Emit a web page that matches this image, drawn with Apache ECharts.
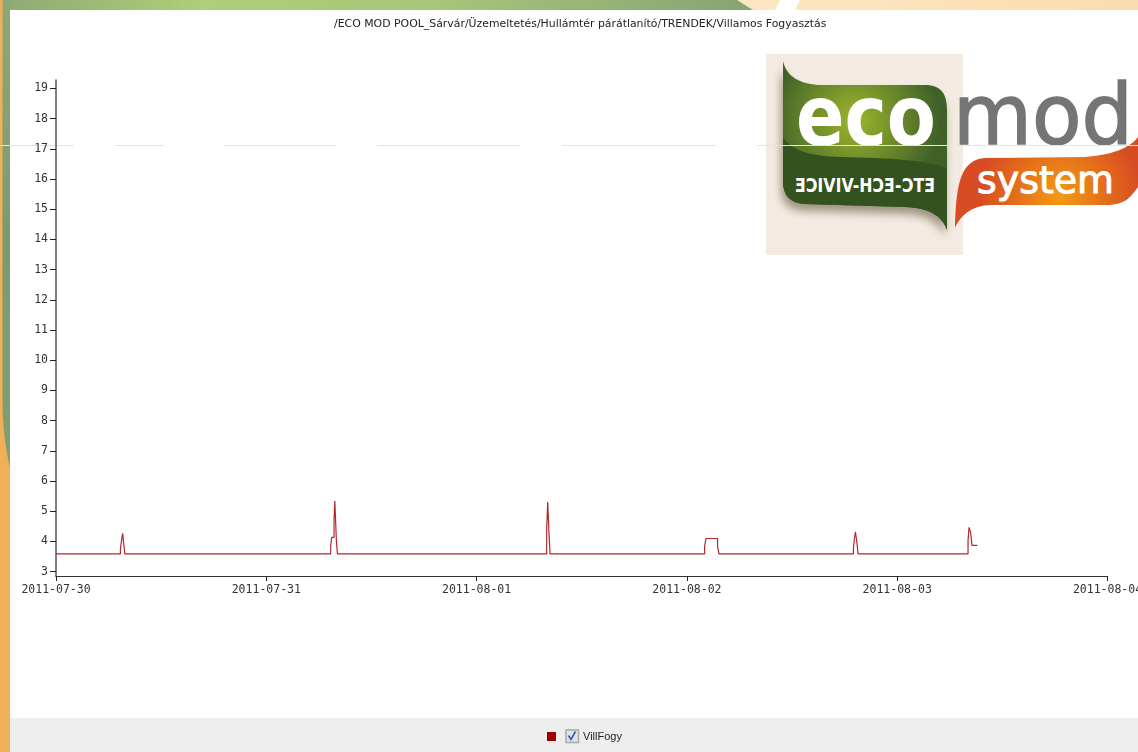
<!DOCTYPE html>
<html>
<head>
<meta charset="utf-8">
<title>Villamos Fogyasztás</title>
<script src="https://cdn.jsdelivr.net/npm/echarts@6/dist/echarts.min.js"></script>
<style>
  html, body { margin: 0; padding: 0; background: #fff; overflow: hidden; }
  #decor, #main { position: absolute; left: 0; top: 0; width: 1138px; height: 752px; }
</style>
</head>
<body>
<!-- page frame and logo sit behind the transparent chart -->
<svg id="decor" width="1138" height="752" xmlns="http://www.w3.org/2000/svg">
  <defs>
    <linearGradient id="topBand" x1="0" y1="0" x2="1" y2="0">
      <stop offset="0" stop-color="#8fa873"/>
      <stop offset="0.27" stop-color="#aecf78"/>
      <stop offset="0.58" stop-color="#a6c67a"/>
      <stop offset="1" stop-color="#86a474"/>
    </linearGradient>
    <linearGradient id="creamBand" x1="0" y1="0" x2="1" y2="0">
      <stop offset="0" stop-color="#fdf1dc"/>
      <stop offset="0.6" stop-color="#fce9c6"/>
      <stop offset="1" stop-color="#fbdcae"/>
    </linearGradient>
    <linearGradient id="leftBand" x1="0" y1="0" x2="0" y2="1">
      <stop offset="0" stop-color="#8fa873"/>
      <stop offset="0.5" stop-color="#7c9a72"/>
      <stop offset="1" stop-color="#80a070"/>
    </linearGradient>
    <radialGradient id="greenGlow" gradientUnits="userSpaceOnUse" cx="855" cy="120" r="85">
      <stop offset="0" stop-color="#9db62c"/>
      <stop offset="1" stop-color="#3f6128"/>
    </radialGradient>
    <radialGradient id="orangeGlow" gradientUnits="userSpaceOnUse" cx="1060" cy="195" r="80">
      <stop offset="0" stop-color="#f49a12"/>
      <stop offset="1" stop-color="#d74c22"/>
    </radialGradient>
    <filter id="soft" x="-20%" y="-20%" width="140%" height="140%">
      <feGaussianBlur stdDeviation="4"/>
    </filter>
  </defs>
  <rect x="0" y="0" width="1138" height="10" fill="url(#creamBand)"/>
  <polygon points="780,0 800,0 795,10 775,10" fill="#fff"/>
  <polygon points="0,0 737,0 753,10 0,10" fill="url(#topBand)"/>
  <rect x="0" y="0" width="10" height="752" fill="#f0b05a"/>
  <path d="M2.5,0 L10,0 L10,468 C6,450 2.5,430 2.5,400 Z" fill="url(#leftBand)"/>
  <rect x="10" y="10" width="1128" height="742" fill="#fff"/>
  <rect x="10" y="718" width="1128" height="34" fill="#eeeeee"/>

  <rect x="766" y="54" width="197" height="201" fill="#f3ebe2"/>
  <path d="M783,61 C786,76 800,85 822,85 L925,85 C942,85 947,95 947,110 L947,230 C942,216 930,208 905,207 L804,204 C790,203 783,195 783,182 Z" fill="#3a2a10" opacity="0.45" filter="url(#soft)" transform="translate(-2,7)"/>
  <path d="M783,61 C786,76 800,85 822,85 L925,85 C942,85 947,95 947,110 L947,230 C942,216 930,208 905,207 L804,204 C790,203 783,195 783,182 Z" fill="url(#greenGlow)"/>
  <path d="M783,137 C790,150 810,156 840,157 C890,158 925,160 947,168 L947,230 C942,216 930,208 905,207 L804,204 C790,203 783,195 783,182 Z" fill="#33521f"/>
  <path d="M955,228 C956,180 962,160 985,158 L1085,157 C1112,155 1130,148 1138,137 L1138,187 C1130,198 1125,205 1105,205 L990,205 C975,206 962,212 955,228 Z" fill="url(#orangeGlow)"/>
  <text x="796" y="145" font-family="DejaVu Sans" font-weight="bold" font-size="84" fill="#fff" textLength="140" lengthAdjust="spacingAndGlyphs">eco</text>
  <text x="953" y="144" font-family="DejaVu Sans" font-size="84" fill="#757575" stroke="#757575" stroke-width="1.5" textLength="180" lengthAdjust="spacingAndGlyphs">mod</text>
  <text x="977" y="193" font-family="DejaVu Sans" font-size="38" fill="#fff" stroke="#fff" stroke-width="1" textLength="137" lengthAdjust="spacingAndGlyphs">system</text>
  <text transform="translate(935,192) scale(-1,1)" font-family="DejaVu Sans" font-weight="bold" font-size="19" fill="#fff" textLength="140" lengthAdjust="spacingAndGlyphs">ETC-ECH-VIVICE</text>

  <g stroke="#e6e8d6" stroke-width="1">
    <line x1="0" y1="145.5" x2="74" y2="145.5"/>
    <line x1="115" y1="145.5" x2="164" y2="145.5"/>
    <line x1="224" y1="145.5" x2="336" y2="145.5"/>
    <line x1="377" y1="145.5" x2="520" y2="145.5"/>
    <line x1="562" y1="145.5" x2="716" y2="145.5"/>
    <line x1="757" y1="145.5" x2="1138" y2="145.5"/>
  </g>

  <rect x="566" y="730" width="12.5" height="12.5" fill="#dde2ee" stroke="#a9a9a9" stroke-width="1.5"/>
  <path d="M568.5,735.5 L571,739.5 L575.5,731.5" fill="none" stroke="#3b5aa8" stroke-width="1.6"/>
</svg>
<div id="main"></div>
<script>
// values
var chartTitle = '/ECO MOD POOL_Sárvár/Üzemeltetés/Hullámtér párátlanító/TRENDEK/Villamos Fogyasztás'
var seriesName = 'VillFogy'
var yTicks = [3, 4, 5, 6, 7, 8, 9, 10, 11, 12, 13, 14, 15, 16, 17, 18, 19]
var times = [
  '2011-07-30T00:00', '2011-07-30T07:21', '2011-07-30T07:30', '2011-07-30T07:37', '2011-07-30T07:44', '2011-07-30T07:51',
  '2011-07-31T07:21', '2011-07-31T07:28', '2011-07-31T07:44', '2011-07-31T07:49', '2011-07-31T07:53', '2011-07-31T08:00', '2011-07-31T08:07',
  '2011-08-01T08:00', '2011-08-01T08:07', '2011-08-01T08:14', '2011-08-01T08:23',
  '2011-08-02T02:01', '2011-08-02T02:11', '2011-08-02T03:30', '2011-08-02T03:40',
  '2011-08-02T19:00', '2011-08-02T19:07', '2011-08-02T19:14', '2011-08-02T19:25', '2011-08-02T19:32',
  '2011-08-03T08:05', '2011-08-03T08:12', '2011-08-03T08:23', '2011-08-03T08:32', '2011-08-03T09:09'
]
var values = [
  3.59, 3.75, 4.08, 4.27, 3.91, 3.59,
  3.85, 4.14, 4.71, 5.34, 4.88, 4.02, 3.59,
  4.45, 5.31, 4.45, 3.59,
  3.83, 4.10, 3.83, 3.59,
  3.77, 4.10, 4.32, 3.94, 3.59,
  4.02, 4.47, 4.29, 3.87, 3.87
]

var fontName = 'DejaVu Sans'
var chart = echarts.init(document.getElementById('main'), null, { renderer: 'canvas' })
chart.setOption({
  useUTC: true,
  animation: false,
  backgroundColor: 'transparent',
  title: {
    text: chartTitle,
    left: 329,
    top: 14,
    textStyle: { fontFamily: fontName, fontSize: 10.9, fontWeight: 'normal', color: '#222' }
  },
  legend: {
    left: 547,
    top: 731,
    padding: 0,
    itemWidth: 9,
    itemHeight: 9,
    itemGap: 0,
    icon: 'rect',
    data: [seriesName],
    selectedMode: false,
    textStyle: { fontFamily: 'Liberation Sans', fontSize: 11, color: '#223', padding: [0, 0, 0, 22] }
  },
  // the last date label runs off the page, the grid must not shrink for it
  grid: { left: 56, top: 80, width: 1051.5, height: 496, outerBoundsMode: 'none' },
  xAxis: {
    type: 'time',
    min: Date.UTC(2011, 6, 30),
    max: Date.UTC(2011, 7, 4),
    minInterval: 86400000,
    maxInterval: 86400000,
    splitLine: { show: false },
    axisLine: { lineStyle: { color: '#333', width: 1.2 } },
    axisTick: { length: 5, lineStyle: { color: '#222' } },
    axisLabel: {
      formatter: '{yyyy}-{MM}-{dd}',
      hideOverlap: false,
      showMinLabel: true,
      showMaxLabel: true,
      fontFamily: 'DejaVu Sans Mono',
      fontSize: 11.5,
      color: '#333',
      margin: 8
    }
  },
  yAxis: {
    type: 'value',
    min: 2.858,
    max: 19.28,
    splitLine: { show: false },
    axisLine: { show: true, lineStyle: { color: '#555', width: 1.5 } },
    axisTick: { show: true, length: 6, customValues: yTicks, lineStyle: { color: '#222' } },
    axisLabel: {
      customValues: yTicks,
      fontFamily: 'DejaVu Sans Mono',
      fontSize: 11.5,
      color: '#333',
      margin: 8
    }
  },
  series: [{
    name: seriesName,
    type: 'line',
    step: 'end',
    showSymbol: false,
    itemStyle: { color: '#a00000' },
    lineStyle: { color: '#b3262c', width: 1.2 },
    data: times.map(function(t, i) { return [t + ':00Z', values[i]] })
  }]
})
</script>
</body>
</html>
